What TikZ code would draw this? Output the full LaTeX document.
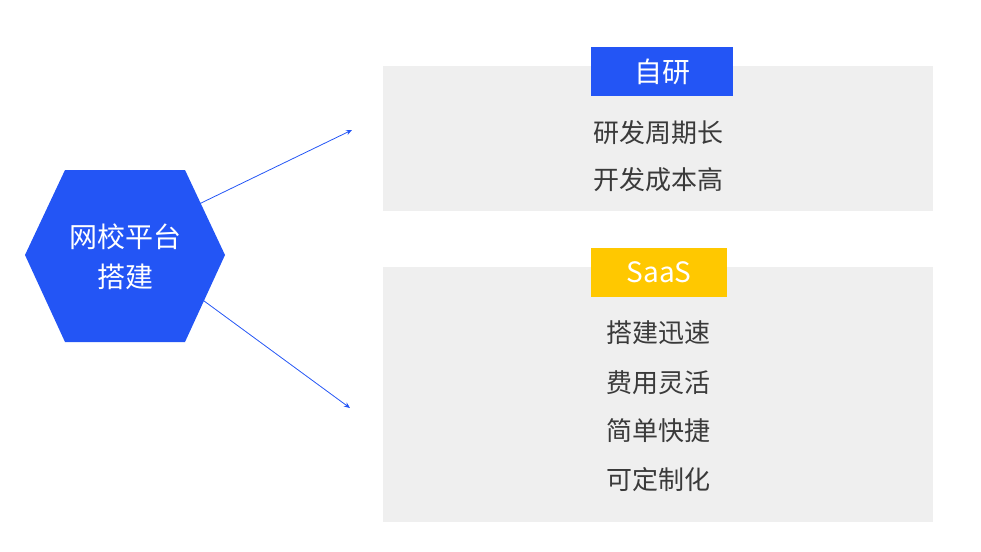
\documentclass[tikz,border=0pt]{standalone}
\usepackage{fontspec}
\setmainfont{Noto Sans CJK SC}
\usetikzlibrary{arrows.meta}
\definecolor{hexblue}{HTML}{2355F5}
\definecolor{boxgray}{HTML}{EFEFEF}
\definecolor{ylw}{HTML}{FFC800}
\definecolor{txt}{HTML}{3A3A3A}
\tikzset{
  panel/.style={fill=boxgray,draw=none},
  lbl/.style={text=txt,font=\fontsize{26pt}{30pt}\selectfont,inner sep=0pt},
  conn/.style={draw=hexblue,line width=0.8pt,-{Stealth[length=6pt,width=5pt]}}
}
\begin{document}
\begin{tikzpicture}[x=1pt,y=-1pt]
\useasboundingbox (0,0) rectangle (981,551);
\fill[panel] (383,66) rectangle (933,211);
\fill[panel] (383,267) rectangle (933,522);
\node[fill=hexblue,minimum width=142pt,minimum height=49pt,inner sep=0pt,text=white,font=\fontsize{28pt}{30pt}\selectfont] (zy) at (662,71.5) {自研};
\node[fill=ylw,minimum width=136pt,minimum height=49pt,inner sep=0pt,text=white,font=\fontsize{28pt}{30pt}\selectfont] (saas) at (659,272.5) {SaaS};
\node[lbl] (a1) at (658,133) {研发周期长};
\node[lbl] (a2) at (658,180) {开发成本高};
\node[lbl] (b1) at (658,333) {搭建迅速};
\node[lbl] (b2) at (658,383) {费用灵活};
\node[lbl] (b3) at (658,431) {简单快捷};
\node[lbl] (b4) at (658,480) {可定制化};
\fill[hexblue] (25,255) -- (65,170) -- (185,170) -- (225,255) -- (185,342) -- (65,342) -- cycle;
\node[text=white,align=center,font=\fontsize{28pt}{40pt}\selectfont] (hex) at (125,257) {网校平台\\搭建};
\coordinate (s1) at (197,205);
\coordinate (e1) at (352,130);
\coordinate (s2) at (200,298);
\coordinate (e2) at (350,408);
\draw[conn] (s1) -- (e1);
\draw[conn] (s2) -- (e2);
\end{tikzpicture}
\end{document}
